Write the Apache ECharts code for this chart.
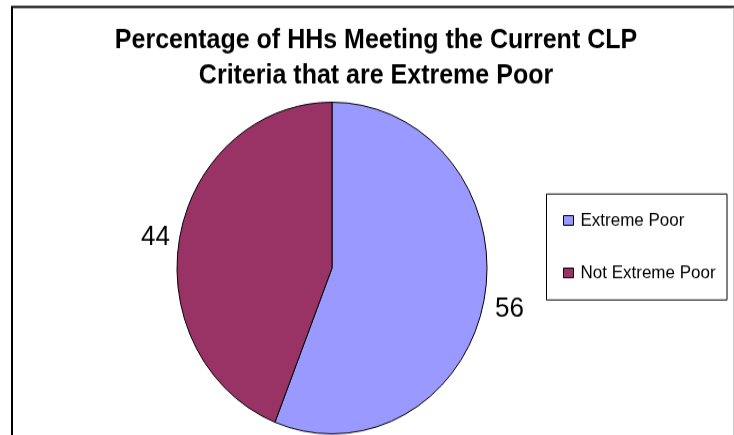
<!DOCTYPE html>
<html>
<head>
<meta charset="utf-8">
<script src="https://cdn.jsdelivr.net/npm/echarts@6/dist/echarts.min.js"></script>
<style>
html,body{margin:0;padding:0;background:#fff;}
#wrap{position:relative;width:734px;height:435px;overflow:hidden;}
#main{position:absolute;left:0;top:0;width:734px;height:407px;transform:scaleY(1.07);transform-origin:0 0;}
</style>
</head>
<body>
<div id="wrap"><div id="main"></div></div>
<script>
const titleLines = ['Percentage of HHs Meeting the Current CLP', 'Criteria that are Extreme Poor'];
const categories = ['Extreme Poor', 'Not Extreme Poor'];
const values = [56, 44];
const colors = ['#9999FF', '#993366'];

const data = categories.map((c, i) => ({ name: c, value: values[i] }));
const font = 'Arial, "Liberation Sans", sans-serif';

const chart = echarts.init(document.getElementById('main'), null, { renderer: 'canvas' });
chart.setOption({
  animation: false,
  color: colors,
  title: {
    text: titleLines.join('\n'),
    left: 376, top: 22, textAlign: 'center', padding: 0,
    textStyle: { fontFamily: font, fontSize: 25, fontWeight: 'bold', color: '#000', lineHeight: 33 }
  },
  legend: {
    orient: 'vertical', left: 563, top: 197.5, itemGap: 32, padding: 0,
    itemWidth: 10, itemHeight: 9, icon: 'rect',
    itemStyle: { borderColor: '#000', borderWidth: 1 },
    textStyle: { fontFamily: font, fontSize: 17, color: '#000', padding: [0, 0, 0, 2] },
    data: categories
  },
  graphic: [
    { type: 'rect', shape: { x: 12, y: 6.5, width: 760, height: 460 }, style: { fill: 'none', stroke: '#000', lineWidth: 2 }, silent: true },
    { type: 'line', shape: { x1: 733.5, y1: 7, x2: 733.5, y2: 410 }, style: { stroke: '#c8c8c8', lineWidth: 1 }, silent: true },
    { type: 'rect', shape: { x: 546.5, y: 181.3, width: 180.5, height: 99 }, style: { fill: 'none', stroke: '#000', lineWidth: 1 }, silent: true }
  ],
  series: [{
    type: 'pie', center: [332, 250.5], radius: 155, startAngle: 90, clockwise: true,
    itemStyle: { borderColor: '#000', borderWidth: 1 },
    label: { show: true, position: 'outside', formatter: '{c}', fontFamily: font, fontSize: 26, color: '#000' },
    labelLine: { show: false, length: 8, length2: 0 },
    labelLayout: function (p) { return p.dataIndex === 0 ? { dx: -2, dy: 8 } : { dx: 3, dy: 2 }; },
    data: data
  }]
});
</script>
</body>
</html>
